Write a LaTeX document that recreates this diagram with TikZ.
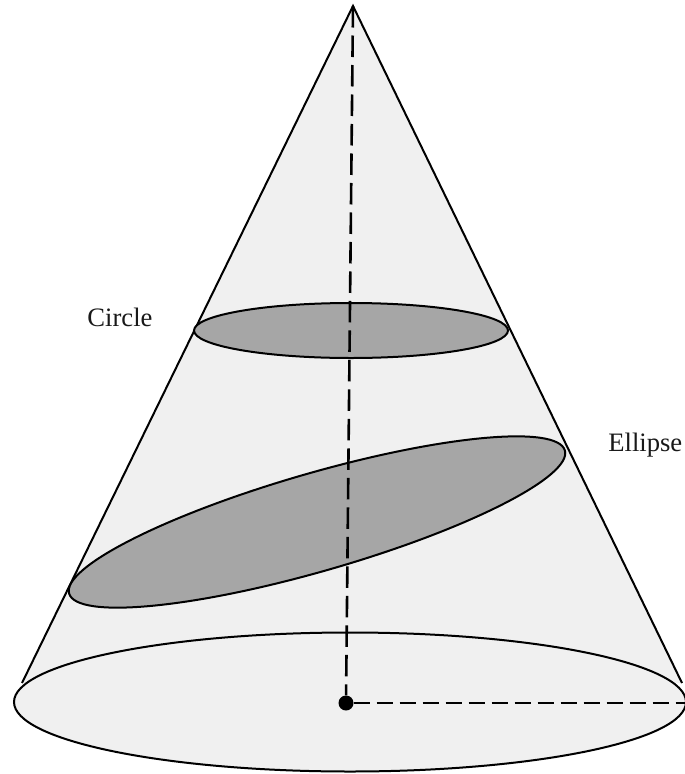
\documentclass[tikz,border=0pt]{standalone}
\usepackage{fontspec}
\setmainfont{Liberation Serif}
\usetikzlibrary{positioning,shapes.geometric}
\definecolor{conegray}{RGB}{240,240,240}
\definecolor{secgray}{RGB}{166,166,166}
\tikzset{
  sec/.style={ellipse,draw=black,line width=2pt,inner sep=0pt,outer sep=0pt},
  axisln/.style={line width=2.6pt,dash pattern=on 21.5pt off 8pt},
  radln/.style={line width=2.4pt,dash pattern=on 16pt off 7pt},
  lbl/.style={font=\fontsize{26.6}{30}\selectfont,text=black!90},
}
\begin{document}
\begin{tikzpicture}[x=1pt,y=-1pt]
    \clip (0,0) rectangle (685,774);
    \fill[white] (0,0) rectangle (685,774);
    \coordinate (apex) at (353,6);
    \coordinate (tanL) at (22,683);
    \coordinate (tanR) at (682,683);
    % cone body and base
    \fill[conegray] (apex) -- (tanR) -- (tanL) -- cycle;
    \node[sec,fill=conegray,minimum width=672pt,minimum height=139pt]
      (base) at (350,702) {};
    \draw[line width=2pt] (tanL) -- (apex) -- (tanR);
    % sections
    \node[sec,fill=secgray,minimum width=314pt,minimum height=55pt]
      (circ) at (351,330.5) {};
    \node[sec,fill=secgray,minimum width=516pt,minimum height=98pt,rotate=16.1]
      (tilt) at (317,522) {};
    % axis and radius
    \node[circle,fill=black,inner sep=0pt,minimum size=15pt] (ctr) at (346,703) {};
    \draw[axisln] (apex) -- (ctr);
    \draw[radln] (ctr) -- (685,703);
    % labels
    \node[lbl,left=38pt of circ.west,yshift=13pt] (lblC) {Circle};
    \node[lbl,right=40pt of tilt.east,yshift=5pt] (lblE) {Ellipse};
\end{tikzpicture}
\end{document}
